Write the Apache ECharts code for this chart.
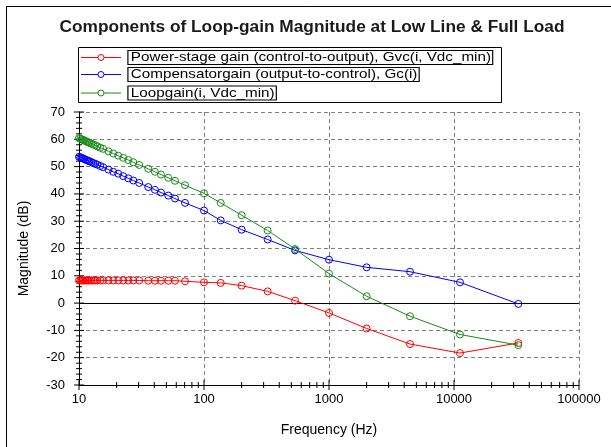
<!DOCTYPE html>
<html>
<head>
<meta charset="utf-8">
<script src="https://cdn.jsdelivr.net/npm/echarts@6/dist/echarts.min.js"></script>
<style>
  html, body { margin: 0; padding: 0; background: #fff; }
  #chart { width: 611px; height: 447px; }
</style>
</head>
<body>
<div id="chart"></div>
<script>
// Frequency points (Hz) shared by all three curves
const freqs = [10, 10.25, 10.5, 10.75, 11, 11.3, 11.6, 11.9, 12.2, 12.6, 13, 13.5, 14, 14.8, 15.6,
  17.2, 18.8, 20.6, 22.6, 24.8, 27.2, 30.3, 35.8, 40.5, 45.3, 51.8, 58.6, 70.5,
  100, 136, 200, 323, 535, 1000, 2000, 4450, 11170, 32700];

// Power-stage gain Gvc(i, Vdc_min), dB
const powerStage = [8.3, 8.3, 8.3, 8.3, 8.3, 8.3, 8.3, 8.3, 8.3, 8.3, 8.3, 8.3, 8.3, 8.3, 8.3,
  8.3, 8.3, 8.3, 8.3, 8.3, 8.3, 8.3, 8.2, 8.2, 8.2, 8.2, 8.2, 8.0,
  7.6, 7.4, 6.4, 4.3, 0.9, -3.6, -9.3, -15.0, -18.3, -14.6];

// Compensator gain Gc(i), dB
const compensator = [53.6, 53.4, 53.2, 53.0, 52.8, 52.5, 52.3, 52.1, 51.9, 51.6, 51.3, 51.0, 50.7, 50.2, 49.8,
  48.9, 48.1, 47.4, 46.5, 45.7, 44.9, 44.0, 42.5, 41.5, 40.5, 39.4, 38.3, 36.7,
  33.9, 30.3, 26.9, 23.3, 19.3, 15.9, 13.1, 11.5, 7.6, -0.3];

// Loop gain (i, Vdc_min), dB
const loopGain = [60.4, 60.2, 60.0, 59.8, 59.6, 59.3, 59.1, 58.9, 58.7, 58.4, 58.1, 57.8, 57.4, 56.9, 56.5,
  55.6, 54.8, 54.0, 53.2, 52.4, 51.6, 50.6, 49.2, 48.1, 47.1, 45.9, 44.8, 43.2,
  40.2, 36.7, 32.2, 26.6, 19.8, 10.8, 2.5, -4.8, -11.5, -15.4];

const seriesNames = [
  'Power-stage gain (control-to-output), Gvc(i, Vdc_min)',
  'Compensatorgain (output-to-control), Gc(i)',
  'Loopgain(i, Vdc_min)'
];
const seriesColors = ['#ff0000', '#0000ff', '#1a8a1a'];

const xMin = 10, xMax = 100000, yMin = -30, yMax = 70;
const FONT = '"Liberation Sans", Arial, sans-serif';

// Tick marks crossing the axes: log minor ticks (2..9 per decade) and 2 dB minor ticks
const tickMarks = [];
for (let d = xMin; d <= xMax; d *= 10) {
  tickMarks.push({ value: [d, yMin, 0, 1] });
  if (d < xMax) for (let m = 2; m <= 9; m++) tickMarks.push({ value: [d * m, yMin, 0, 0] });
}
for (let v = yMin; v <= yMax; v += 2) {
  tickMarks.push({ value: [xMin, v, 1, v % 10 === 0 ? 1 : 0] });
}

function toPairs(vals) { return freqs.map((f, i) => [f, vals[i]]); }

function curve(idx, vals) {
  return {
    name: seriesNames[idx],
    type: 'line',
    data: toPairs(vals),
    symbol: 'circle',
    symbolSize: 7,
    showSymbol: true,
    animation: false,
    lineStyle: { color: seriesColors[idx], width: 1 },
    itemStyle: { color: 'rgba(0,0,0,0)', borderColor: seriesColors[idx], borderWidth: 1 },
    z: 5 + idx
  };
}

// Legend box drawn as graphic elements
const legendRows = [57.5, 74.5, 93];
const legendGraphics = [{
  type: 'rect', shape: { x: 78.5, y: 47.5, width: 423, height: 55 },
  style: { fill: '#fff', stroke: '#000', lineWidth: 1 }, z: 10
}];
legendRows.forEach((y, i) => {
  legendGraphics.push({
    type: 'line', shape: { x1: 81, y1: y, x2: 121, y2: y },
    style: { stroke: seriesColors[i], lineWidth: 1 }, z: 11
  });
  legendGraphics.push({
    type: 'circle', shape: { cx: 101, cy: y, r: 3 },
    style: { fill: '#fff', stroke: seriesColors[i], lineWidth: 1 }, z: 12
  });
  legendGraphics.push({
    type: 'text', x: 128.5, y: y, scaleX: 1.17,
    style: {
      text: seriesNames[i], font: '13px ' + FONT, fill: '#000',
      verticalAlign: 'middle', align: 'left',
      borderColor: '#000', borderWidth: 1, padding: [0, 1, 0, 2], backgroundColor: '#fff'
    }, z: 12
  });
});

const chart = echarts.init(document.getElementById('chart'), null, { renderer: 'canvas' });
chart.setOption({
  backgroundColor: '#fff',
  animation: false,
  textStyle: { fontFamily: FONT },
  graphic: [
    { type: 'rect', shape: { x: 6.5, y: 6.5, width: 700, height: 600 },
      style: { fill: 'none', stroke: '#000', lineWidth: 1 }, z: 0, silent: true },
    { type: 'text', x: 312, y: 28, scaleX: 1.08,
      style: { text: 'Components of Loop-gain Magnitude at Low Line & Full Load',
        font: 'bold 16px ' + FONT, fill: '#1a1a1a', align: 'center', verticalAlign: 'middle' }, z: 10 }
  ].concat(legendGraphics),
  grid: { left: 79, top: 112, width: 500, height: 273, containLabel: false },
  xAxis: {
    type: 'log', logBase: 10, min: xMin, max: xMax,
    name: 'Frequency (Hz)', nameLocation: 'middle', nameGap: 38,
    nameTextStyle: { fontSize: 14, color: '#000', fontFamily: FONT },
    axisLine: { show: true, onZero: false, lineStyle: { color: '#000', width: 1 } },
    axisTick: { show: false },
    axisLabel: { fontSize: 13, color: '#000', margin: 8, fontFamily: FONT,
      formatter: v => String(Math.round(v)) },
    splitLine: { show: true, lineStyle: { color: '#808080', type: [4, 3], width: 1 } }
  },
  yAxis: {
    type: 'value', min: yMin, max: yMax, interval: 10,
    name: 'Magnitude (dB)', nameLocation: 'middle', nameGap: 48, nameRotate: 90,
    nameTextStyle: { fontSize: 14, color: '#000', fontFamily: FONT },
    axisLine: { show: true, onZero: false, lineStyle: { color: '#000', width: 1 } },
    axisTick: { show: false },
    axisLabel: { fontSize: 13, color: '#000', margin: 14, fontFamily: FONT },
    splitLine: { show: true, lineStyle: { color: '#808080', type: [4, 3], width: 1 } }
  },
  series: [
    {
      type: 'custom', name: 'ticks', clip: false, silent: true, z: 4,
      data: tickMarks,
      renderItem: function (params, api) {
        const p = api.coord([api.value(0), api.value(1)]);
        const len = api.value(3) ? 5 : 3;
        const shape = api.value(2)
          ? { x1: p[0] - len, y1: p[1], x2: p[0] + len, y2: p[1] }
          : { x1: p[0], y1: p[1] - len, x2: p[0], y2: p[1] + len };
        return { type: 'line', shape: shape, style: { stroke: '#000', lineWidth: 1 } };
      }
    },
    Object.assign(curve(0, powerStage), {
      markLine: {
        silent: true, symbol: ['none', 'none'], label: { show: false },
        lineStyle: { color: '#000', type: 'solid', width: 1.2 },
        data: [{ yAxis: 0 }]
      }
    }),
    curve(1, compensator),
    curve(2, loopGain)
  ]
});
</script>
</body>
</html>
